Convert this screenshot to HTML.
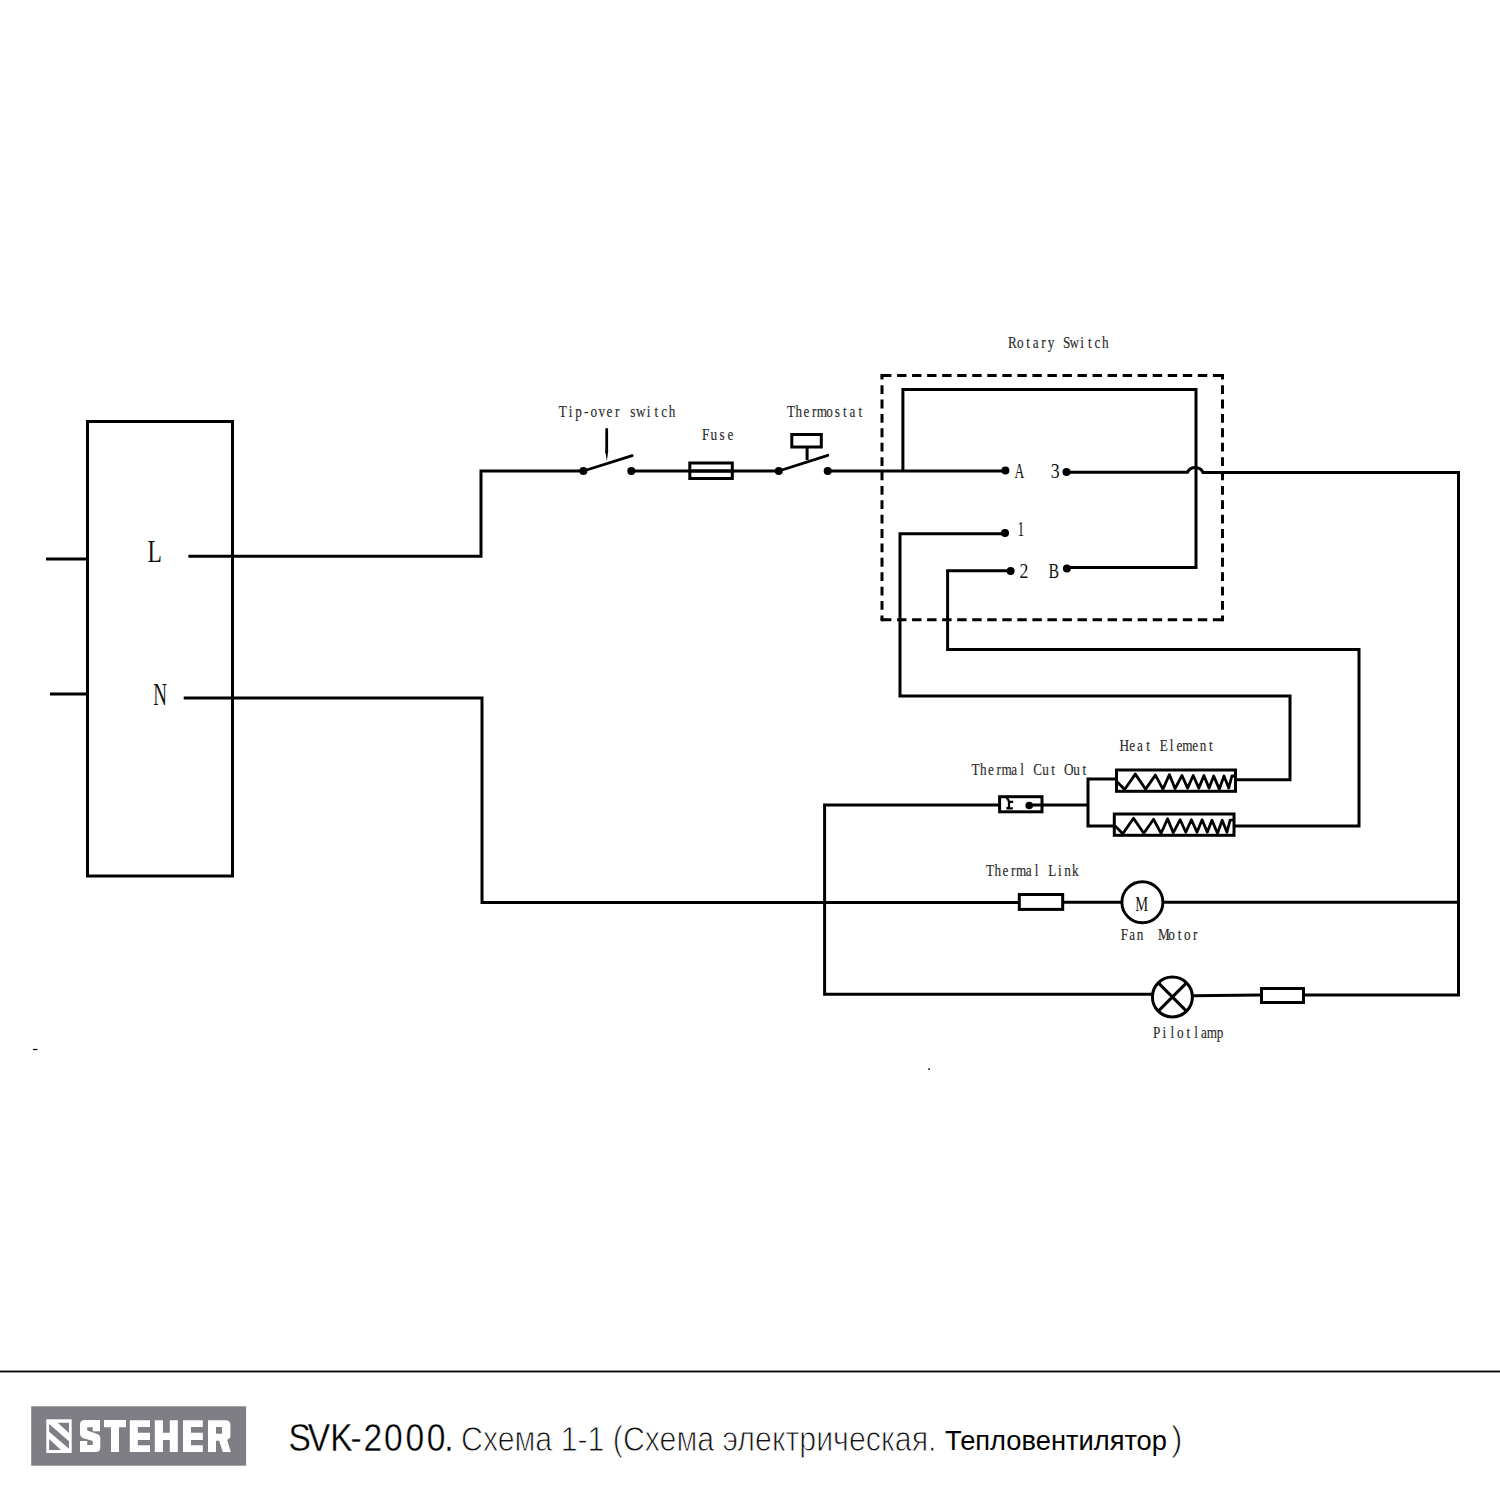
<!DOCTYPE html>
<html><head><meta charset="utf-8">
<style>
html,body{margin:0;padding:0;background:#fff;width:1500px;height:1500px;overflow:hidden}
svg{display:block}
.w{fill:none;stroke:#000;stroke-width:3;stroke-linecap:butt;stroke-linejoin:miter}
.lb{font-family:"Liberation Serif",serif;font-size:16.5px;fill:#2a2a2a;stroke:#2a2a2a;stroke-width:0.15}
.big{font-family:"Liberation Serif",serif;fill:#111}
</style></head>
<body>
<svg width="1500" height="1500" viewBox="0 0 1500 1500">
<!-- terminal box -->
<rect class="w" x="87.5" y="421.5" width="145" height="454.5"/>
<path class="w" d="M46 559H87.5M50 694H87.5"/>
<text class="big" x="147.4" y="562.2" font-size="32" textLength="14.4" lengthAdjust="spacingAndGlyphs">L</text>
<text class="big" x="153.2" y="704.5" font-size="32" textLength="13.8" lengthAdjust="spacingAndGlyphs">N</text>

<!-- L wire -->
<path class="w" d="M188.4 556.3H481V471H583"/>
<!-- tip-over switch -->
<circle cx="583.4" cy="471" r="4"/>
<path class="w" d="M583.4 471L632.2 455.6" style="stroke-linecap:round;stroke-width:2.8"/>
<path class="w" d="M606.7 429.5V452" style="stroke-linecap:round;stroke-width:2.8"/>
<path d="M605.2 451L608.2 451L606.9 461Z"/>
<circle cx="631.3" cy="471" r="4"/>
<path class="w" d="M631.3 471H778.8"/>
<!-- fuse -->
<rect class="w" x="689.8" y="463" width="42.5" height="15.5" fill="#fff"/>
<path class="w" d="M689.8 471H732.3"/>
<!-- thermostat -->
<circle cx="778.8" cy="471" r="4"/>
<path class="w" d="M778.8 471L827.8 455.3" style="stroke-linecap:round;stroke-width:2.8"/>
<rect class="w" x="791.8" y="434.5" width="29.5" height="12.5"/>
<path class="w" d="M807.1 447V460" style="stroke-linecap:butt"/>
<circle cx="827.7" cy="471" r="4"/>
<path class="w" d="M827.7 471H1005.2"/>
<circle cx="1005.4" cy="470.6" r="4"/>

<!-- rotary switch -->
<g fill="none" stroke="#000" stroke-width="3">
<path d="M882 375.4H1222.5M882 619.7H1222.5" stroke-dasharray="9.4 5.64"/>
<path d="M882 375.4V619.7M1222.5 375.4V619.7" stroke-dasharray="8.8 5.59" stroke-dashoffset="4.6"/>
</g>
<path d="M880.5 373.9h3v3h-3zM1221 373.9h3v3h-3zM880.5 618.2h3v3h-3zM1221 618.2h3v3h-3z"/>
<path class="w" d="M902.9 471V389.6H1196V567.5H1067"/>
<circle cx="1066.5" cy="472" r="4"/>
<circle cx="1066.9" cy="568.5" r="4"/>
<path class="w" d="M1066.5 472.3H1187.5C1190.5 466 1200 466 1203 472.5H1458.5V994.9H1304.5"/>
<circle cx="1005" cy="533" r="4"/>
<path class="w" d="M1005 533.8H900V696H1290V779.8H1236"/>
<circle cx="1010.6" cy="571.1" r="4"/>
<path class="w" d="M1010.7 570.8H947.6V649.4H1359V826H1235"/>
<text class="big" x="1014.6" y="477.6" font-size="21" textLength="9.8" lengthAdjust="spacingAndGlyphs">A</text>
<text class="big" x="1050.8" y="478.3" font-size="21" textLength="8.9" lengthAdjust="spacingAndGlyphs">3</text>
<text class="big" x="1017.6" y="535.6" font-size="21" textLength="6.7" lengthAdjust="spacingAndGlyphs">1</text>
<text class="big" x="1019.6" y="578.4" font-size="21" textLength="8.9" lengthAdjust="spacingAndGlyphs">2</text>
<text class="big" x="1048.6" y="578" font-size="21" textLength="10.6" lengthAdjust="spacingAndGlyphs">B</text>

<!-- heat elements -->
<rect class="w" x="1116.5" y="770" width="119" height="21.3"/>
<rect class="w" x="1114.3" y="814" width="119.7" height="21.3"/>
<path class="w" d="M1116 779H1088V826H1114M1043 805H1088"/>
<path class="w" style="stroke-linecap:round;stroke-linejoin:round;stroke-width:2.8" d="M1116.7 781.6L1124.6 789.5L1135.3 774.1L1145.6 789.1L1155.4 775.1L1162.9 789.1L1169.4 774.6L1175 788.6L1182 775.5L1187.6 788.1L1193.2 775.5L1198.8 788.1L1203.9 775.5L1209.1 788.1L1213.7 776L1219.3 789.1L1224 776L1228.7 788.1L1231.9 776L1234 776"/>
<path class="w" style="stroke-linecap:round;stroke-linejoin:round;stroke-width:2.8" transform="translate(-1.8 44.2)" d="M1116.7 781.6L1124.6 789.5L1135.3 774.1L1145.6 789.1L1155.4 775.1L1162.9 789.1L1169.4 774.6L1175 788.6L1182 775.5L1187.6 788.1L1193.2 775.5L1198.8 788.1L1203.9 775.5L1209.1 788.1L1213.7 776L1219.3 789.1L1224 776L1228.7 788.1L1231.9 776L1234 776"/>

<!-- thermal cut out -->
<rect class="w" x="999.6" y="796.7" width="42.4" height="15.1"/>
<path class="w" d="M999.6 805H824.6V994.2H1152M1029 805H1043"/>
<circle cx="1029.2" cy="805.5" r="3.8"/>
<path fill="none" stroke="#000" stroke-width="2.2" d="M1006.2 797.6Q1009 799.5 1009 802.5V806.5Q1008.6 808 1006.5 808.4H1012.8M1009 801.9H1013.2"/>

<!-- N wire, thermal link, motor -->
<path class="w" d="M183.7 698H482V902.5H1019.3"/>
<rect class="w" x="1019.3" y="894.5" width="43.4" height="14.9"/>
<path class="w" d="M1062.7 902.3H1122"/>
<circle cx="1142.4" cy="902.2" r="20.5" fill="none" stroke="#000" stroke-width="2.9"/>
<path class="w" d="M1162.6 902.3H1458.5"/>
<text class="big" x="1135.2" y="910.6" font-size="21.5" textLength="12.9" lengthAdjust="spacingAndGlyphs">M</text>

<!-- pilot lamp -->
<circle cx="1172.4" cy="997" r="20" fill="none" stroke="#000" stroke-width="3"/>
<path class="w" style="stroke-linecap:butt" d="M1158.3 982.9L1186.5 1011.1M1186.5 982.9L1158.3 1011.1"/>
<path class="w" d="M1192.4 995.8L1260.2 994.9"/>
<rect class="w" x="1261.5" y="988.5" width="42" height="14"/>

<!-- labels -->
<!--LB-->
<text class="lb" transform="scale(0.8 1)" x="1260.02 1271.28 1282.73 1290.87 1301.52 1309.81 1328.68 1337.03 1350.30 1359.94 1368.19 1377.47" y="347.60">RotarySwitch</text>
<text class="lb" transform="scale(0.8 1)" x="698.33 710.82 718.95 729.89 738.27 748.03 758.21 768.82 787.92 794.99 808.37 818.11 826.46 835.84" y="417.10">Tip-overswitch</text>
<text class="lb" transform="scale(0.8 1)" x="877.40 888.26 899.52 909.50" y="439.60">Fuse</text>
<text class="lb" transform="scale(0.8 1)" x="983.83 994.40 1004.42 1014.90 1020.90 1032.86 1043.35 1053.90 1062.00 1073.14" y="417.30">Thermostat</text>
<text class="lb" transform="scale(0.8 1)" x="1399.52 1411.62 1421.32 1432.67 1449.81 1462.22 1470.66 1477.73 1490.34 1499.68 1511.39" y="750.80">HeatElement</text>
<text class="lb" transform="scale(0.8 1)" x="1214.33 1224.99 1235.10 1245.67 1251.76 1264.10 1275.35 1291.68 1302.69 1314.17 1329.96 1341.53 1353.01" y="775.00">ThermalCutOut</text>
<text class="lb" transform="scale(0.8 1)" x="1232.45 1243.11 1253.22 1263.78 1269.87 1282.20 1293.45 1310.38 1322.56 1330.39 1340.00" y="875.80">ThermalLink</text>
<text class="lb" transform="scale(0.8 1)" x="1401.02 1411.55 1421.04 1447.42 1460.47 1472.11 1480.15 1491.28" y="940.00">FanMotor</text>
<text class="lb" transform="scale(0.8 1)" x="1441.15 1453.25 1463.18 1471.26 1482.98 1492.92 1501.29 1508.58 1521.02" y="1038.30">Pilotlamp</text>
<!--/LB-->

<!-- footer -->
<rect x="0" y="1370.6" width="1500" height="1.8" fill="#000"/>
<rect x="31.2" y="1406.3" width="214.9" height="59.4" fill="#7f7e84"/>
<!-- logo icon -->
<rect x="46.3" y="1419.3" width="25.4" height="33.7" fill="#fff"/>
<path fill="#7f7e84" d="M57.7 1422.8H69V1433ZM49.1 1424L69 1441.3V1448.7L49.1 1431.7ZM49.1 1439L61 1449.9H49.1Z"/>
<!-- STEHER letters -->
<g fill="#fff">
<path d="M80 1424.8Q80 1420 84.8 1420H100V1431.3H92.8V1427.2H87.2V1430.4L97.3 1433.9Q100.3 1435 100.3 1437.3V1447.5Q100.3 1452 95.5 1452H80V1440.9H87.2V1445.1H92.8V1441.1L82.7 1437.9Q80 1437 80 1434.1Z"/>
<path d="M104 1420H126V1427.2H119V1452.1H111V1427.2H104Z"/>
<path d="M129.8 1420.2H150V1427H137.8V1432.8H150V1440H137.8V1445.2H150V1452H129.8Z"/>
<path d="M154.8 1420.2H163V1432.8H169.8V1420.2H177.8V1452H169.8V1440H163V1452H154.8Z"/>
<path d="M183 1420.2H202.8V1427H191V1432.8H202.8V1440H191V1445.2H202.8V1452H183Z"/>
<path d="M208 1420.2H225.4Q230.4 1420.2 230.4 1425.2V1437.2L227.2 1440L230.8 1452H222.8L219.2 1440.8H216V1452H208ZM216 1427V1433.8H222V1427Z" fill-rule="evenodd"/>
</g>
<text transform="scale(0.85 1)" x="339.38 362.18 388.52 412.36 427.78 451.75 476.93 501.99 522.63" y="1450.8" font-family="Liberation Sans" font-size="39.5" fill="#000" stroke="#fff" stroke-width="0.35">SVK-2000.</text>
<text x="461" y="1451" font-family="Liberation Sans" font-size="35" textLength="475.5" lengthAdjust="spacingAndGlyphs" fill="#111" stroke="#fff" stroke-width="0.9">Схема 1-1 (Схема электрическая.</text>
<text x="945" y="1450.3" font-family="Liberation Sans" font-size="28" textLength="222" lengthAdjust="spacingAndGlyphs" fill="#000">Тепловентилятор</text>
<text x="1171" y="1451" font-family="Liberation Sans" font-size="35" fill="#111" stroke="#fff" stroke-width="0.9">)</text>
<path d="M33 1049.5H37.5" stroke="#000" stroke-width="1.2"/>
<rect x="928.3" y="1068.3" width="1.6" height="1.6" fill="#000"/>
</svg>
</body></html>
